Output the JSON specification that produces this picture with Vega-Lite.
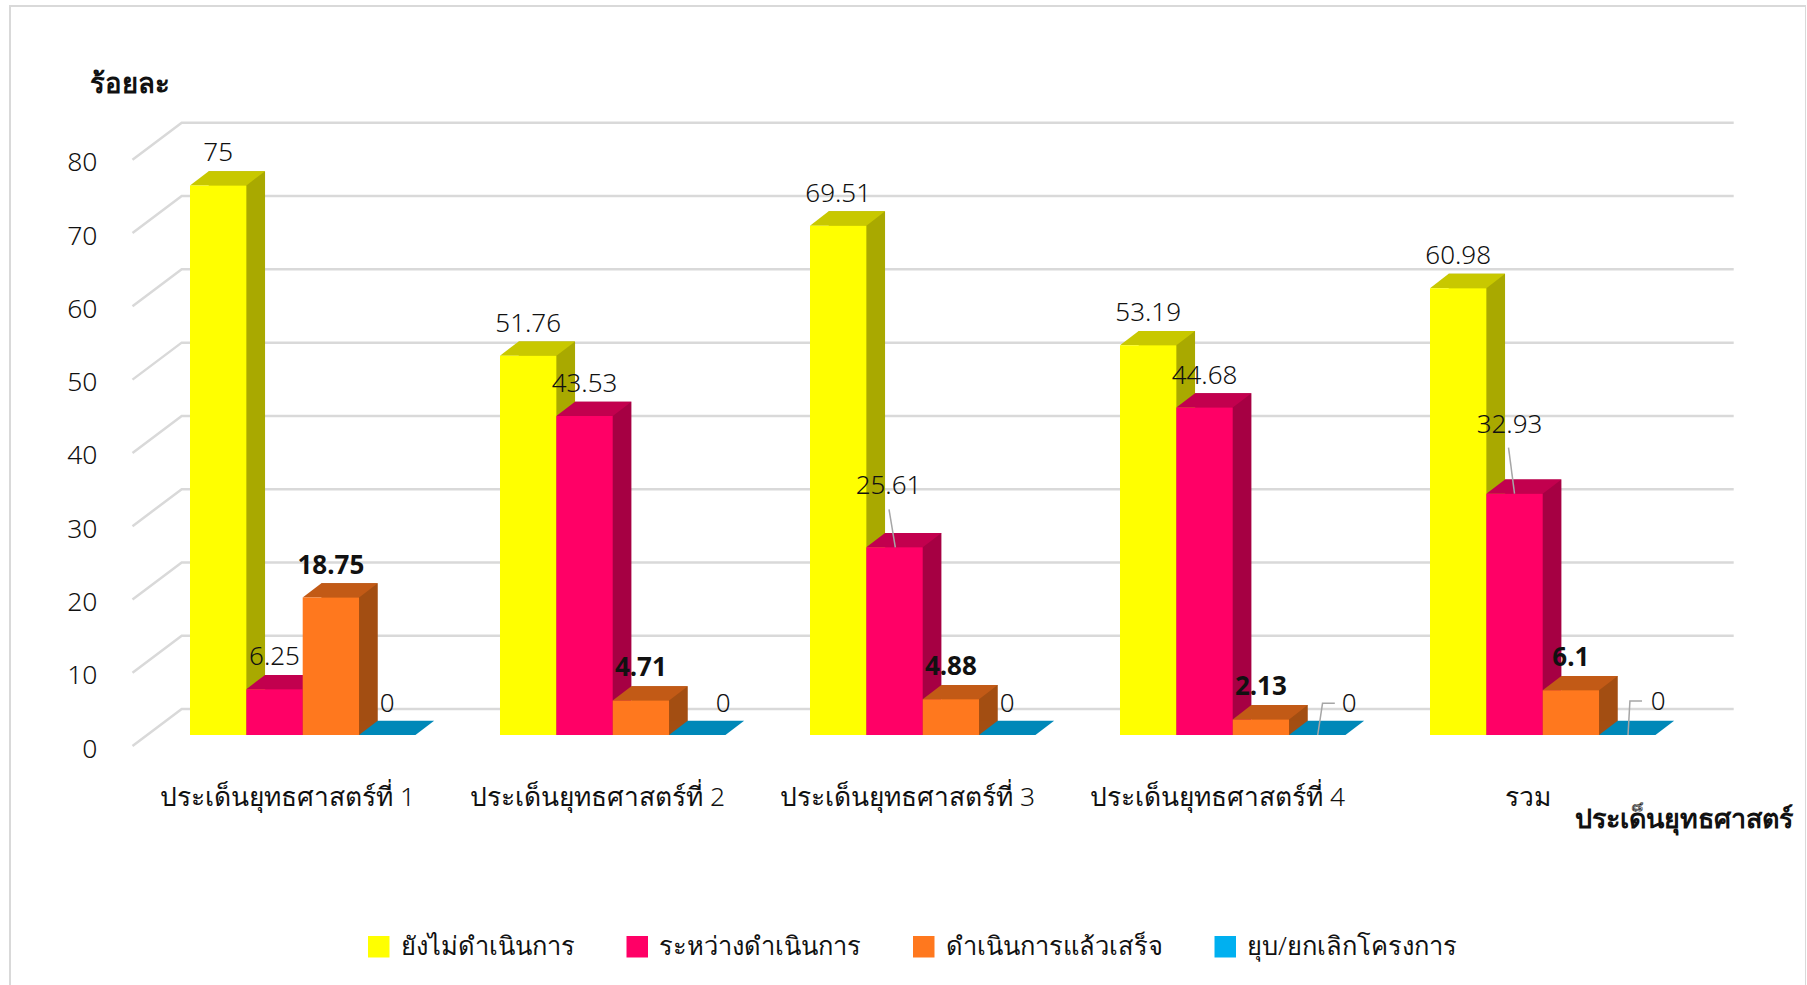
{"$schema":"https://vega.github.io/schema/vega-lite/v6.json","autosize":"none","padding":{"left":10,"top":6,"right":0,"bottom":0},"width":1796,"height":990,"background":"white","config":{"view":{"stroke":"#D9D9D9","strokeWidth":2},"font":"Noto Sans","text":{"fontWeight":300},"legend":{"labelFontWeight":300}},"datasets":{"rows":[{"category":"ประเด็นยุทธศาสตร์ที่ 1","series":"ยังไม่ดำเนินการ","value":75},{"category":"ประเด็นยุทธศาสตร์ที่ 1","series":"ระหว่างดำเนินการ","value":6.25},{"category":"ประเด็นยุทธศาสตร์ที่ 1","series":"ดำเนินการแล้วเสร็จ","value":18.75},{"category":"ประเด็นยุทธศาสตร์ที่ 1","series":"ยุบ/ยกเลิกโครงการ","value":0},{"category":"ประเด็นยุทธศาสตร์ที่ 2","series":"ยังไม่ดำเนินการ","value":51.76},{"category":"ประเด็นยุทธศาสตร์ที่ 2","series":"ระหว่างดำเนินการ","value":43.53},{"category":"ประเด็นยุทธศาสตร์ที่ 2","series":"ดำเนินการแล้วเสร็จ","value":4.71},{"category":"ประเด็นยุทธศาสตร์ที่ 2","series":"ยุบ/ยกเลิกโครงการ","value":0},{"category":"ประเด็นยุทธศาสตร์ที่ 3","series":"ยังไม่ดำเนินการ","value":69.51},{"category":"ประเด็นยุทธศาสตร์ที่ 3","series":"ระหว่างดำเนินการ","value":25.61},{"category":"ประเด็นยุทธศาสตร์ที่ 3","series":"ดำเนินการแล้วเสร็จ","value":4.88},{"category":"ประเด็นยุทธศาสตร์ที่ 3","series":"ยุบ/ยกเลิกโครงการ","value":0},{"category":"ประเด็นยุทธศาสตร์ที่ 4","series":"ยังไม่ดำเนินการ","value":53.19},{"category":"ประเด็นยุทธศาสตร์ที่ 4","series":"ระหว่างดำเนินการ","value":44.68},{"category":"ประเด็นยุทธศาสตร์ที่ 4","series":"ดำเนินการแล้วเสร็จ","value":2.13},{"category":"ประเด็นยุทธศาสตร์ที่ 4","series":"ยุบ/ยกเลิกโครงการ","value":0},{"category":"รวม","series":"ยังไม่ดำเนินการ","value":60.98},{"category":"รวม","series":"ระหว่างดำเนินการ","value":32.93},{"category":"รวม","series":"ดำเนินการแล้วเสร็จ","value":6.1},{"category":"รวม","series":"ยุบ/ยกเลิกโครงการ","value":0}],"ticks":[{"category":"ประเด็นยุทธศาสตร์ที่ 1","tick":0},{"category":"ประเด็นยุทธศาสตร์ที่ 1","tick":10},{"category":"ประเด็นยุทธศาสตร์ที่ 1","tick":20},{"category":"ประเด็นยุทธศาสตร์ที่ 1","tick":30},{"category":"ประเด็นยุทธศาสตร์ที่ 1","tick":40},{"category":"ประเด็นยุทธศาสตร์ที่ 1","tick":50},{"category":"ประเด็นยุทธศาสตร์ที่ 1","tick":60},{"category":"ประเด็นยุทธศาสตร์ที่ 1","tick":70},{"category":"ประเด็นยุทธศาสตร์ที่ 1","tick":80}]},"layer":[{"data":{"name":"ticks"},"encoding":{"x":{"field":"category","type":"nominal","bandPosition":0,"scale":{"type":"band","domain":["ประเด็นยุทธศาสตร์ที่ 1","ประเด็นยุทธศาสตร์ที่ 2","ประเด็นยุทธศาสตร์ที่ 3","ประเด็นยุทธศาสตร์ที่ 4","รวม"],"range":[122.5,1672.5],"paddingInner":0,"paddingOuter":0},"axis":null},"y":{"field":"tick","type":"quantitative","scale":{"domain":[0,80],"range":[729,142.8],"nice":false,"zero":false},"axis":null}},"layer":[{"mark":{"type":"point","filled":false,"shape":"M0,11L49.2,-26L1601.2,-26","size":4,"stroke":"#D9D9D9","strokeWidth":2.5,"opacity":1}},{"mark":{"type":"text","align":"right","baseline":"middle","fontSize":26.5,"color":"#111111","dx":-35,"dy":14.5},"encoding":{"text":{"field":"tick","type":"quantitative"}}},{"transform":[{"filter":"datum.tick == 80"}],"mark":{"type":"text","align":"left","baseline":"middle","fontSize":27.5,"fontWeight":"bold","color":"#111111","dx":-42.5,"dy":-64,"text":"ร้อยละ"}}]},{"data":{"name":"rows"},"transform":[{"filter":"datum.series == 'ยังไม่ดำเนินการ'"}],"encoding":{"x":{"field":"category","type":"nominal","scale":{"type":"band","domain":["ประเด็นยุทธศาสตร์ที่ 1","ประเด็นยุทธศาสตร์ที่ 2","ประเด็นยุทธศาสตร์ที่ 3","ประเด็นยุทธศาสตร์ที่ 4","รวม"],"range":[122.5,1672.5],"paddingInner":0,"paddingOuter":0},"axis":null},"y":{"datum":0,"type":"quantitative","scale":{"domain":[0,80],"range":[729,142.8],"nice":false,"zero":false},"axis":null}},"layer":[{"mark":{"type":"text","align":"center","baseline":"middle","fontSize":26.4,"color":"#111111","dy":62.5},"encoding":{"text":{"field":"category","type":"nominal"}}},{"transform":[{"filter":"datum.category == 'รวม'"}],"mark":{"type":"text","align":"left","baseline":"middle","fontSize":26.9,"fontWeight":"bold","color":"#111111","dx":47.5,"dy":85,"text":"ประเด็นยุทธศาสตร์"}}]},{"data":{"name":"rows"},"encoding":{"x":{"field":"category","type":"nominal","sort":null,"scale":{"type":"band","domain":["ประเด็นยุทธศาสตร์ที่ 1","ประเด็นยุทธศาสตร์ที่ 2","ประเด็นยุทธศาสตร์ที่ 3","ประเด็นยุทธศาสตร์ที่ 4","รวม"],"range":[122.5,1672.5],"paddingInner":0,"paddingOuter":0},"axis":null},"xOffset":{"field":"series","type":"nominal","sort":null,"scale":{"type":"band","domain":["ยังไม่ดำเนินการ","ระหว่างดำเนินการ","ดำเนินการแล้วเสร็จ","ยุบ/ยกเลิกโครงการ"],"range":[57.5,282.9],"paddingInner":0,"paddingOuter":0}},"y":{"field":"value","type":"quantitative","stack":null,"scale":{"domain":[0,80],"range":[729,142.8],"nice":false,"zero":false},"axis":null}},"resolve":{"scale":{"color":"independent","xOffset":"independent"}},"layer":[{"transform":[{"filter":"datum.value > 0"}],"mark":{"type":"bar","yOffset":-14.3,"y2Offset":-14.3},"encoding":{"xOffset":{"field":"series","type":"nominal","sort":null,"scale":{"type":"band","domain":["ยังไม่ดำเนินการ","ระหว่างดำเนินการ","ดำเนินการแล้วเสร็จ","ยุบ/ยกเลิกโครงการ"],"range":[76.2,301.6],"paddingInner":0,"paddingOuter":0}},"color":{"field":"series","type":"nominal","legend":null,"scale":{"domain":["ยังไม่ดำเนินการ","ระหว่างดำเนินการ","ดำเนินการแล้วเสร็จ","ยุบ/ยกเลิกโครงการ"],"range":["#A9A900","#A60043","#A34E12","#0088B8"]}}}},{"transform":[{"filter":"datum.value > 0"}],"mark":{"type":"point","filled":true,"shape":"M28.2,0L46.9,-14.3L28.2,-14.3Z","size":4,"opacity":1},"encoding":{"y":{"datum":0,"type":"quantitative"},"color":{"field":"series","type":"nominal","legend":null,"scale":{"domain":["ยังไม่ดำเนินการ","ระหว่างดำเนินการ","ดำเนินการแล้วเสร็จ","ยุบ/ยกเลิกโครงการ"],"range":["#A9A900","#A60043","#A34E12","#0088B8"]}}}},{"mark":{"type":"point","filled":true,"shape":"M-28.2,0L28.2,0L46.9,-14.3L-9.5,-14.3Z","size":4,"opacity":1},"encoding":{"color":{"field":"series","type":"nominal","legend":null,"scale":{"domain":["ยังไม่ดำเนินการ","ระหว่างดำเนินการ","ดำเนินการแล้วเสร็จ","ยุบ/ยกเลิกโครงการ"],"range":["#C8C800","#C2004E","#C25A16","#0088B8"]}}}},{"mark":{"type":"bar"},"encoding":{"color":{"field":"series","type":"nominal","scale":{"domain":["ยังไม่ดำเนินการ","ระหว่างดำเนินการ","ดำเนินการแล้วเสร็จ","ยุบ/ยกเลิกโครงการ"],"range":["#FFFF00","#FF0066","#FF781E","#00B0F0"]},"legend":{"title":null,"orient":"none","legendX":356,"legendY":928,"direction":"horizontal","columns":4,"symbolType":"square","symbolSize":462,"symbolStrokeWidth":0,"symbolOpacity":1,"labelFontSize":25.5,"labelColor":"#111111","labelLimit":400,"labelOffset":9,"columnPadding":49.5,"gridAlign":"none"}}}},{"transform":[{"filter":"datum.series == 'ยังไม่ดำเนินการ' || (datum.series == 'ระหว่างดำเนินการ' && datum.value != 25.61 && datum.value != 32.93)"}],"mark":{"type":"text","fontSize":26,"color":"#111111","dy":-32,"baseline":"middle"},"encoding":{"text":{"field":"value","type":"quantitative"}}},{"transform":[{"filter":"datum.series == 'ดำเนินการแล้วเสร็จ'"}],"mark":{"type":"text","fontSize":26,"fontWeight":"bold","color":"#111111","dy":-32,"baseline":"middle"},"encoding":{"text":{"field":"value","type":"quantitative"}}},{"transform":[{"filter":"datum.value == 25.61"}],"mark":{"type":"text","fontSize":26,"color":"#111111","dx":-6,"dy":-61,"baseline":"middle"},"encoding":{"text":{"field":"value","type":"quantitative"}}},{"transform":[{"filter":"datum.value == 32.93"}],"mark":{"type":"text","fontSize":26,"color":"#111111","dx":-5,"dy":-69,"baseline":"middle"},"encoding":{"text":{"field":"value","type":"quantitative"}}},{"transform":[{"filter":"datum.value == 0 && (datum.category == 'ประเด็นยุทธศาสตร์ที่ 1' || datum.category == 'ประเด็นยุทธศาสตร์ที่ 3')"}],"mark":{"type":"text","fontSize":26,"color":"#111111","dy":-31,"baseline":"middle"},"encoding":{"text":{"field":"value","type":"quantitative"}}},{"transform":[{"filter":"datum.value == 0 && datum.category == 'ประเด็นยุทธศาสตร์ที่ 2'"}],"mark":{"type":"text","fontSize":26,"color":"#111111","dx":26,"dy":-31,"baseline":"middle"},"encoding":{"text":{"field":"value","type":"quantitative"}}},{"transform":[{"filter":"datum.value == 0 && datum.category == 'ประเด็นยุทธศาสตร์ที่ 4'"}],"mark":{"type":"text","fontSize":26,"color":"#111111","dx":32,"dy":-31,"baseline":"middle"},"encoding":{"text":{"field":"value","type":"quantitative"}}},{"transform":[{"filter":"datum.value == 0 && datum.category == 'รวม'"}],"mark":{"type":"text","fontSize":26,"color":"#111111","dx":31,"dy":-33,"baseline":"middle"},"encoding":{"text":{"field":"value","type":"quantitative"}}},{"transform":[{"filter":"datum.value == 25.61"}],"mark":{"type":"point","filled":false,"shape":"M-5.5,-38L0.8,0","size":4,"stroke":"#A6A6A6","strokeWidth":1.5,"opacity":1}},{"transform":[{"filter":"datum.value == 32.93"}],"mark":{"type":"point","filled":false,"shape":"M-6,-46L0,0","size":4,"stroke":"#A6A6A6","strokeWidth":1.5,"opacity":1}},{"transform":[{"filter":"datum.value == 0 && datum.category == 'ประเด็นยุทธศาสตร์ที่ 4'"}],"mark":{"type":"point","filled":false,"shape":"M0.5,0L5.3,-31.7L17.6,-31.7","size":4,"stroke":"#A6A6A6","strokeWidth":1.5,"opacity":1}},{"transform":[{"filter":"datum.value == 0 && datum.category == 'รวม'"}],"mark":{"type":"point","filled":false,"shape":"M0.8,0L2.7,-34L14.8,-34","size":4,"stroke":"#A6A6A6","strokeWidth":1.5,"opacity":1}}]}]}
